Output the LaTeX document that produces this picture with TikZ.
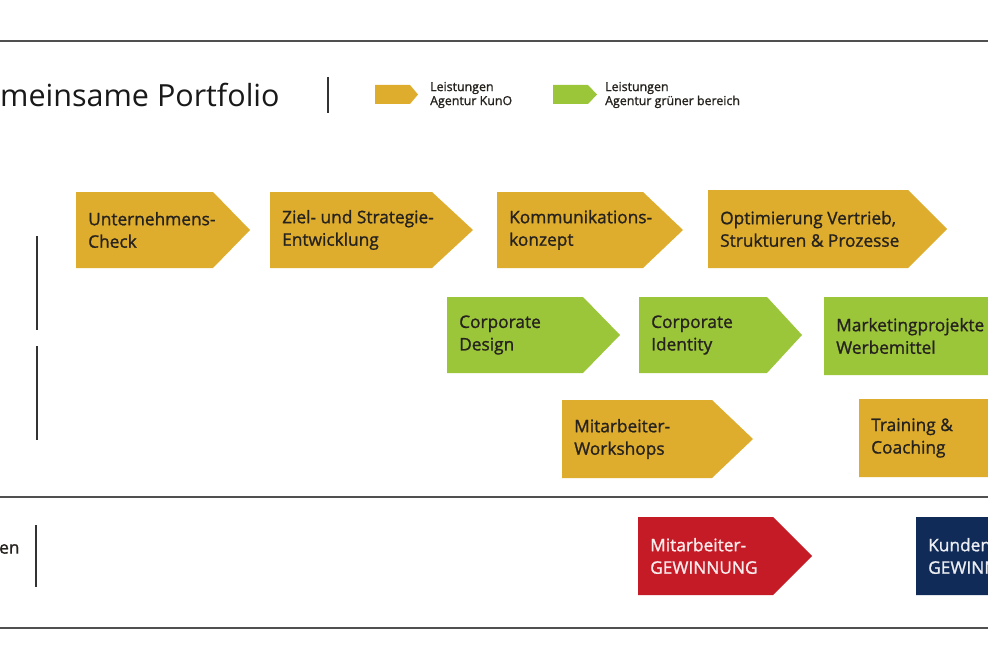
\documentclass[tikz,border=0pt]{standalone}
\usepackage{fontspec}
\setmainfont{Open Sans}
\newfontfamily\boxfont{Open Sans}[FakeBold=1.2]
\definecolor{kuno}{RGB}{223,173,46}
\definecolor{gruen}{RGB}{156,198,58}
\definecolor{rot}{RGB}{197,27,38}
\definecolor{navy}{RGB}{16,43,88}
\definecolor{txt}{RGB}{38,34,30}
\definecolor{rule}{RGB}{80,80,80}
\tikzset{
  kunofill/.style={fill=kuno},
  gruenfill/.style={fill=gruen},
  rotfill/.style={fill=rot},
  navyfill/.style={fill=navy},
  kunofilltxt/.style={text=txt},
  gruenfilltxt/.style={text=txt},
  rotfilltxt/.style={text=white!92!rot},
  navyfilltxt/.style={text=white!92!navy},
  boxtext/.style={inner sep=0pt, align=left, font=\boxfont\fontsize{17.3}{22.5}\selectfont},
  legtext/.style={inner sep=0pt, align=left, text=txt, font=\boxfont\fontsize{12.4}{14}\selectfont},
  hrule/.style={draw=rule, line width=2pt},
  vrule/.style={draw=black!80, line width=1.8pt},
}
% #1 name, #2 left, #3 top, #4 shoulder, #5 tip, #6 bottom, #7 style, #8 text
\newcommand\chev[8]{%
  \fill[#7] (#2,#3) -- (#4,#3) -- (#5,{(#3+#6)/2}) -- (#4,#6) -- (#2,#6) -- cycle;
  \node[boxtext,#7txt,anchor=west] (#1) at ({#2+12},{(#3+#6)/2}) {#8};
}
\begin{document}
\begin{tikzpicture}[x=1pt,y=-1pt]
\useasboundingbox (0,0) rectangle (988,666);
\clip (0,0) rectangle (988,666);
\fill[white] (0,0) rectangle (988,666);
% rules
\coordinate (t0) at (0,41); \coordinate (t1) at (988,41);
\coordinate (m0) at (0,497); \coordinate (m1) at (988,497);
\coordinate (b0) at (0,628); \coordinate (b1) at (988,628);
\draw[hrule] (t0) -- (t1);
\draw[hrule] (m0) -- (m1);
\draw[hrule] (b0) -- (b1);
% title
\node[inner sep=0pt, anchor=base west, text=black!90, font=\fontsize{30.5}{32}\selectfont] (title) at (0,107) {meinsame Portfolio};
\coordinate (s0) at (328,77); \coordinate (s1) at (328,113);
\draw[vrule] (s0) -- (s1);
% legend
\fill[kunofill] (375,85) -- (410,85) -- (418,94.5) -- (410,104) -- (375,104) -- cycle;
\node[legtext, anchor=west] (leg1) at (430,95) {Leistungen\\Agentur KunO};
\fill[gruenfill] (553,85) -- (588,85) -- (597,94.5) -- (588,104) -- (553,104) -- cycle;
\node[legtext, anchor=west] (leg2) at (605,95) {Leistungen\\Agentur grüner bereich};
% left separators
\coordinate (v1a) at (37,236); \coordinate (v1b) at (37,330);
\coordinate (v2a) at (37,346); \coordinate (v2b) at (37,440);
\coordinate (v3a) at (36,525); \coordinate (v3b) at (36,587);
\draw[vrule] (v1a) -- (v1b);
\draw[vrule] (v2a) -- (v2b);
\draw[vrule] (v3a) -- (v3b);
\node[boxtext, text=txt, anchor=west] (lab) at (-1,549) {en};
% row 1
\chev{uc}{76}{192}{213}{250}{268}{kunofill}{Unternehmens-\\Check}
\chev{zs}{270}{192}{432}{473}{268}{kunofill}{Ziel- und Strategie-\\Entwicklung}
\chev{kk}{497}{192}{643}{683}{268}{kunofill}{Kommunikations-\\konzept}
\chev{ov}{708}{190}{908}{947}{268}{kunofill}{Optimierung Vertrieb,\\Strukturen \& Prozesse}
% row 2
\chev{cd}{447}{297}{583}{620}{373}{gruenfill}{Corporate\\Design}
\chev{ci}{639}{297}{767}{802}{373}{gruenfill}{Corporate\\Identity}
\chev{mp}{824}{297}{1040}{1078}{375}{gruenfill}{Marketingprojekte\\Werbemittel}
% row 3
\chev{mw}{562}{400}{712}{753}{478}{kunofill}{Mitarbeiter-\\Workshops}
\chev{tc}{859}{399}{1040}{1078}{477}{kunofill}{Training \&\\Coaching}
% row 4
\chev{mg}{638}{517}{773}{812}{595}{rotfill}{Mitarbeiter-\\GEWINNUNG}
\chev{kg}{916}{517}{1060}{1098}{595}{navyfill}{Kunden-\\GEWINNUNG}
\end{tikzpicture}
\end{document}
